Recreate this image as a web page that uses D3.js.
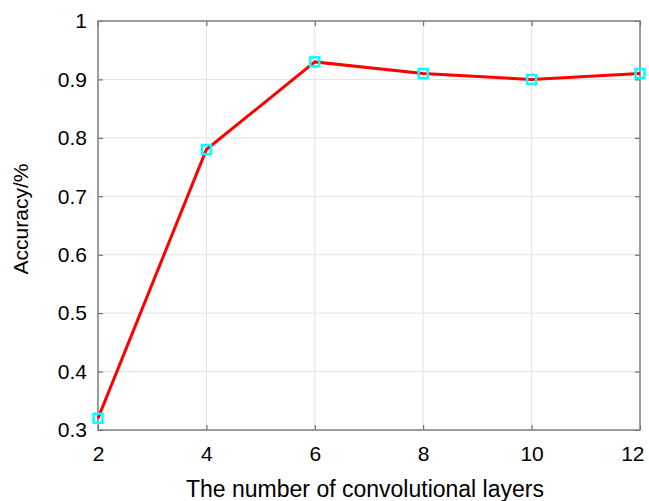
<!DOCTYPE html>
<html>
<head>
<meta charset="utf-8">
<script src="https://cdn.jsdelivr.net/npm/d3@7"></script>
<style>
  body { margin: 0; background: #fff; }
  text { font-family: "Liberation Sans", Arial, sans-serif; fill: #000; }
</style>
</head>
<body>
<svg width="649" height="501"></svg>
<script>
// layers vs accuracy
const layers = [2, 4, 6, 8, 10, 12];
const accuracy = [0.32, 0.78, 0.93, 0.91, 0.90, 0.91];
const xTicks = [2, 4, 6, 8, 10, 12];
const yTicks = [0.3, 0.4, 0.5, 0.6, 0.7, 0.8, 0.9, 1];

const plotL = 98, plotR = 640, plotT = 21, plotB = 430;

const svg = d3.select('svg');

const x = d3.scaleLinear().domain([2, 12]).range([plotL, plotR]);
const y = d3.scaleLinear().domain([0.3, 1]).range([plotB, plotT]);

// grid
svg.append('g').selectAll('line').data(xTicks).enter().append('line')
  .attr('x1', d => x(d)).attr('x2', d => x(d))
  .attr('y1', plotT).attr('y2', plotB)
  .attr('stroke', '#e3e3e3').attr('stroke-width', 1);
svg.append('g').selectAll('line').data(yTicks).enter().append('line')
  .attr('y1', d => y(d)).attr('y2', d => y(d))
  .attr('x1', plotL).attr('x2', plotR)
  .attr('stroke', '#e3e3e3').attr('stroke-width', 1);

// axes (ticks inward, all four sides)
const axisStyle = g => {
  g.select('.domain').remove();
  g.selectAll('.tick line').attr('stroke', '#555').attr('stroke-width', 1);
  g.selectAll('.tick text').style('font-size', '21px').style('font-family', '"Liberation Sans", Arial, sans-serif');
};

const xAxisG = svg.append('g').attr('transform', `translate(0,${plotB})`)
  .call(d3.axisBottom(x).tickValues(xTicks).tickSizeInner(-5).tickSizeOuter(0).tickPadding(16).tickFormat(d3.format('d')))
  .call(axisStyle);
// last label pulled in so it stays inside the page
xAxisG.selectAll('.tick text').filter(d => d === 12)
  .attr('text-anchor', 'end').attr('x', 4);

svg.append('g').attr('transform', `translate(0,${plotT})`)
  .call(d3.axisTop(x).tickValues(xTicks).tickSizeInner(-5).tickSizeOuter(0).tickFormat(''))
  .call(axisStyle);
svg.append('g').attr('transform', `translate(${plotL},0)`)
  .call(d3.axisLeft(y).tickValues(yTicks).tickSizeInner(-5).tickSizeOuter(0).tickPadding(11).tickFormat(d => d === 1 ? '1' : d3.format('.1f')(d)))
  .call(axisStyle);
svg.append('g').attr('transform', `translate(${plotR},0)`)
  .call(d3.axisRight(y).tickValues(yTicks).tickSizeInner(-5).tickSizeOuter(0).tickFormat(''))
  .call(axisStyle);

// box
svg.append('rect')
  .attr('x', plotL).attr('y', plotT)
  .attr('width', plotR - plotL).attr('height', plotB - plotT)
  .attr('fill', 'none').attr('stroke', '#808080').attr('stroke-width', 1.5);

// line
const pts = layers.map((d, i) => [d, accuracy[i]]);
svg.append('path').datum(pts)
  .attr('d', d3.line().x(d => x(d[0])).y(d => y(d[1])))
  .attr('fill', 'none').attr('stroke', '#ff0000').attr('stroke-width', 3);

// markers
svg.append('g').selectAll('rect').data(pts).enter().append('rect')
  .attr('x', d => x(d[0]) - 4.5).attr('y', d => y(d[1]) - 4.5)
  .attr('width', 9).attr('height', 9)
  .attr('fill', 'none').attr('stroke', '#00ffff').attr('stroke-width', 2.5);

// labels
svg.append('text')
  .attr('x', 365).attr('y', 497)
  .attr('text-anchor', 'middle').style('font-size', '23px')
  .text('The number of convolutional layers');
svg.append('text')
  .attr('transform', 'translate(28,219) rotate(-90)')
  .attr('text-anchor', 'middle').style('font-size', '21px')
  .text('Accuracy/%');
</script>
</body>
</html>
